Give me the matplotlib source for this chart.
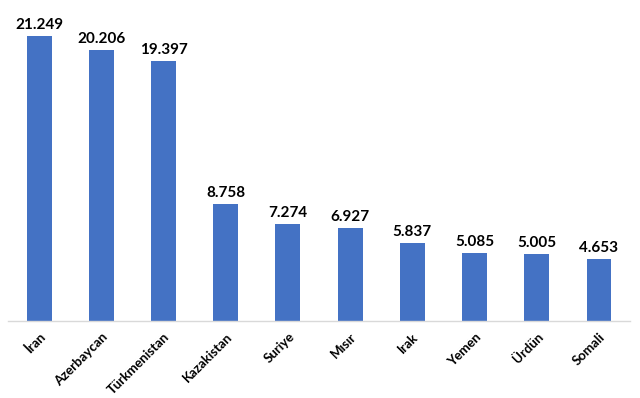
import matplotlib
matplotlib.use("Agg")
import matplotlib.pyplot as plt

countries = ["İran", "Azerbaycan", "Türkmenistan", "Kazakistan", "Suriye",
             "Mısır", "Irak", "Yemen", "Ürdün", "Somali"]
values = [21.249, 20.206, 19.397, 8.758, 7.274, 6.927, 5.837, 5.085, 5.005, 4.653]
value_labels = ["21.249", "20.206", "19.397", "8.758", "7.274",
                "6.927", "5.837", "5.085", "5.005", "4.653"]

plt.rcParams["font.family"] = ["Lato", "DejaVu Sans"]

fig = plt.figure(figsize=(6.4, 3.98), dpi=100)
ax = fig.add_axes([0.0125, 0.1935, 0.972, 0.781])

x = range(len(countries))
bars = ax.bar(x, values, width=0.4, color="#4472C4")

for b, lab in zip(bars, value_labels):
    ax.text(b.get_x() + b.get_width() / 2, b.get_height() + 0.3, lab,
            ha="center", va="bottom", fontsize=11, fontweight="bold", color="black")

ax.set_xlim(-0.5, len(countries) - 0.5)
ax.set_ylim(0, 23.2)
ax.set_xticks(list(x))
ax.set_xticklabels(countries, rotation=45, ha="right", rotation_mode="anchor",
                   fontsize=9.5, fontweight="bold")
ax.tick_params(axis="x", length=0, pad=7)
ax.set_yticks([])
for side in ["top", "right", "left"]:
    ax.spines[side].set_visible(False)
ax.spines["bottom"].set_color("#D9D9D9")
ax.spines["bottom"].set_linewidth(1)

fig.savefig("out.png", dpi=100)
